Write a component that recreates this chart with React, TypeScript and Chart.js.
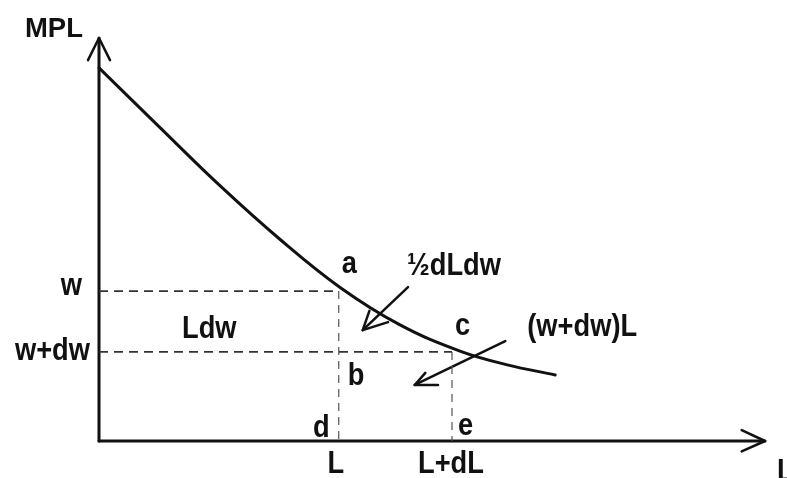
import React, { useEffect, useRef } from "react";
import { Chart, registerables } from "chart.js";

Chart.register(...registerables);

// Marginal product of labour curve (L, MPL)
const curveL = [0, 9.2, 18.2, 27.2, 36.2, 45.2, 54.2, 61.3, 68.5];
const curveMPL = [92.6, 77.7, 63.3, 50.0, 38.1, 28.8, 22.3, 18.9, 16.4];

// Levels on the axes
const wageLevels = [37.2, 22.1]; // w, w+dw
const wageLabels = ["w", "w+dw"];
const labourLevels = [36.0, 53.0]; // L, L+dL
const labourLabels = ["L", "L+dL"];

// Axis extents
const xMax = 100;
const yMax = 100;

// Pointer arrows: tail, tip, wing1, wing2
const arrowHalf = [
  [46.4, 38.2],
  [39.6, 27.5],
  [40.6, 32.3],
  [43.4, 29.5],
];
const arrowRect = [
  [61.0, 24.8],
  [47.4, 13.9],
  [49.0, 16.9],
  [50.9, 13.9],
];

const FONT = "'Liberation Sans', Arial, Helvetica, sans-serif";

function pts(xs: number[], ys: number[]) {
  return xs.map((x, i) => ({ x, y: ys[i] }));
}

export default function App() {
  const ref = useRef<HTMLCanvasElement | null>(null);

  useEffect(() => {
    document.body.style.margin = "0";
    const canvas = ref.current!;
    const [w, wdw] = wageLevels;
    const [Lv, LdL] = labourLevels;

    const black = "#111";
    const solid = (data: { x: number; y: number }[], width: number) => ({
      data,
      showLine: true,
      borderColor: black,
      borderWidth: width,
      pointRadius: 0,
      fill: false,
      clip: false as any,
      borderCapStyle: "round" as const,
      borderJoinStyle: "round" as const,
    });
    const dashed = (data: { x: number; y: number }[], width: number, color: string, dash: number[]) => ({
      data,
      showLine: true,
      borderColor: color,
      borderWidth: width,
      borderDash: dash,
      pointRadius: 0,
      fill: false,
      clip: false as any,
    });
    const arrow = (a: number[][]) => [
      solid([{ x: a[0][0], y: a[0][1] }, { x: a[1][0], y: a[1][1] }], 2.5),
      solid([{ x: a[2][0], y: a[2][1] }, { x: a[1][0], y: a[1][1] }, { x: a[3][0], y: a[3][1] }], 2.5),
    ];

    const labelsPlugin = {
      id: "labels",
      afterDatasetsDraw(chart: any) {
        const ctx = chart.ctx as CanvasRenderingContext2D;
        const xs = chart.scales.x;
        const ys = chart.scales.y;
        const px = (v: number) => xs.getPixelForValue(v);
        const py = (v: number) => ys.getPixelForValue(v);
        const text = (
          t: string,
          x: number,
          y: number,
          align: CanvasTextAlign,
          size = 31,
          sx = 0.88
        ) => {
          ctx.save();
          ctx.fillStyle = black;
          ctx.font = `bold ${size}px ${FONT}`;
          ctx.textAlign = align;
          ctx.textBaseline = "alphabetic";
          ctx.translate(x, y);
          ctx.scale(sx, 1);
          ctx.fillText(t, 0, 0);
          ctx.restore();
        };
        // axis titles
        text("MPL", px(0) - 74, py(yMax) - 1, "left", 28, 0.98);
        text("L", px(xMax) + 12, py(0) + 40, "left");
        // wage levels on y axis
        text(wageLabels[0], px(0) - 17, py(w) + 4, "right");
        text(wageLabels[1], px(0) - 9, py(wdw) + 8, "right");
        // labour levels on x axis
        text(labourLabels[0], px(Lv) - 3, py(0) + 32, "center");
        text(labourLabels[1], px(LdL) - 1, py(0) + 32, "center");
        // points
        text("a", px(Lv) + 3, py(w) - 18, "left");
        text("b", px(Lv) + 9, py(wdw) + 33, "left");
        text("c", px(LdL) + 3, py(wdw) - 17, "left");
        text("d", px(Lv) - 9, py(0) - 4, "right");
        text("e", px(LdL) + 6, py(0) - 6, "left");
        // areas
        text("Ldw", px(0) + 83, py(wdw) - 14, "left");
        text("\u00BDdLdw", px(arrowHalf[0][0]) - 1, py(arrowHalf[0][1]) - 12, "left");
        text("(w+dw)L", px(arrowRect[0][0]) + 22, py(arrowRect[0][1]) - 5, "left");
      },
    };

    const chart = new Chart(canvas, {
      type: "scatter",
      data: {
        datasets: [
          // dashed guide lines
          dashed([{ x: 0, y: w }, { x: Lv, y: w }], 1.8, "#333", [9, 6]),
          dashed([{ x: 0, y: wdw }, { x: LdL, y: wdw }], 1.8, "#333", [9, 6]),
          dashed([{ x: Lv, y: w }, { x: Lv, y: 0 }], 1.2, "#555", [8, 6]),
          dashed([{ x: LdL, y: wdw }, { x: LdL, y: 0 }], 1.2, "#555", [8, 6]),
          // MPL curve
          {
            ...solid(pts(curveL, curveMPL), 3),
            tension: 0.4,
          },
          // axes
          solid([{ x: 0, y: 0 }, { x: 0, y: yMax }], 3),
          solid([{ x: 0, y: 0 }, { x: xMax, y: 0 }], 3),
          solid([{ x: -1.65, y: yMax - 5.5 }, { x: 0, y: yMax }, { x: 1.65, y: yMax - 5.5 }], 2.5),
          solid([{ x: xMax - 3.5, y: 2.7 }, { x: xMax, y: 0 }, { x: xMax - 3.5, y: -2.6 }], 2.5),
          // pointer arrows
          ...arrow(arrowHalf),
          ...arrow(arrowRect),
        ] as any,
      },
      options: {
        animation: false,
        responsive: false,
        maintainAspectRatio: false,
        layout: { padding: { left: 99, right: 22, top: 38, bottom: 37 } },
        scales: {
          x: { type: "linear", min: 0, max: xMax, display: false },
          y: { type: "linear", min: 0, max: yMax, display: false },
        },
        plugins: {
          legend: { display: false },
          tooltip: { enabled: false },
        },
        events: [],
      },
      plugins: [labelsPlugin],
    });
    return () => chart.destroy();
  }, []);

  return (
    <div style={{ position: "absolute", left: 0, top: 0, width: 787, height: 478, background: "#fff" }}>
      <canvas ref={ref} width={787} height={478} style={{ display: "block" }} />
    </div>
  );
}
